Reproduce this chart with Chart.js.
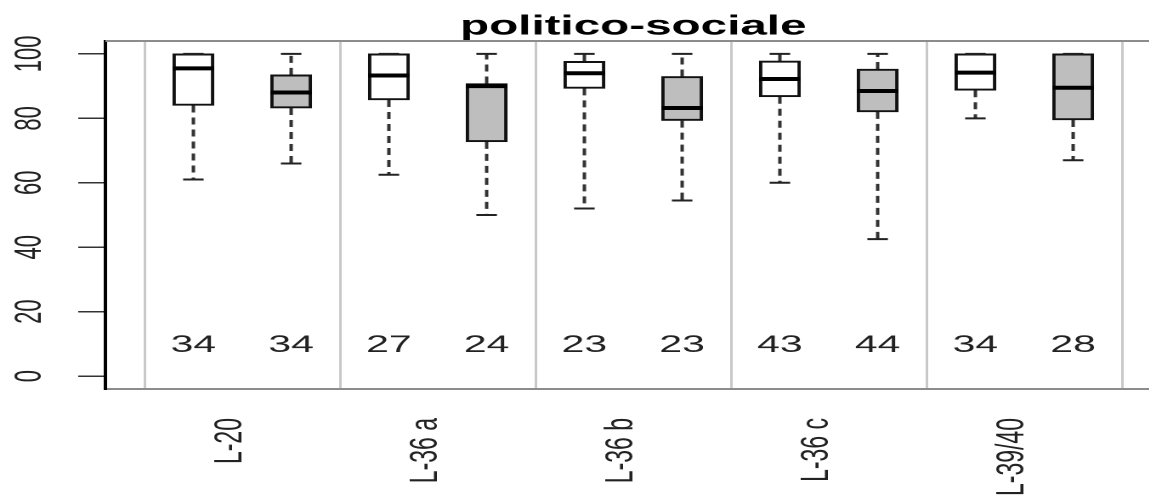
<!DOCTYPE html>
<html>
<head>
<meta charset="utf-8">
<script src="https://cdn.jsdelivr.net/npm/chart.js@4.4.1/dist/chart.umd.min.js"></script>
<style>
html, body { margin: 0; padding: 0; background: #fff; overflow: hidden; width: 1149px; height: 495px; }
/* the original R plot was stretched sideways, so we stretch the canvas the same way */
#wrap { width: 700px; height: 495px; transform: scaleX(1.7); transform-origin: 0 0; }
</style>
</head>
<body>
<div id="wrap"><canvas id="grafico" width="700" height="495"></canvas></div>
<script>
var categorias = ['L-20', 'L-36 a', 'L-36 b', 'L-36 c', 'L-39/40'];

// serie bianca
var minA = [61, 62.5, 52, 60, 80];
var q1A = [84, 85.7, 89.3, 86.7, 88.7];
var medA = [95.5, 93.3, 94, 92.2, 94.2];
var q3A = [100, 100, 97.7, 97.8, 100];
var maxA = [100, 100, 100, 100, 100];
var nA = [34, 27, 23, 43, 34];

// serie grigia
var minB = [66, 50, 54.5, 42.5, 67];
var q1B = [83.2, 72.7, 79.3, 82, 79.5];
var medB = [88, 90, 83.2, 88.5, 89.5];
var q3B = [93.5, 90.8, 93, 95.3, 100];
var maxB = [100, 100, 100, 100, 100];
var nB = [34, 24, 23, 44, 28];

var yTicks = [0, 20, 40, 60, 80, 100];
var titolo = 'politico-sociale';

var fonte = '"Liberation Sans", Arial, sans-serif';
var meia = 0.21;   // half box width, x units
var tampa = 0.105; // half cap width

var caixas = [], cores = [], medianas = [], bigodes = [], tampas = [], contagens = [];

function addBox(pos, mn, q1, md, q3, mx, n, cor) {
    caixas.push({ x: pos, y: [q1, q3] });
    cores.push(cor);
    medianas.push({ x: pos - meia, y: md }, { x: pos + meia, y: md }, { x: pos + meia, y: null });
    bigodes.push({ x: pos, y: q3 }, { x: pos, y: mx }, { x: pos, y: null },
                 { x: pos, y: q1 }, { x: pos, y: mn }, { x: pos, y: null });
    tampas.push({ x: pos - tampa, y: mx }, { x: pos + tampa, y: mx }, { x: pos + tampa, y: null },
                { x: pos - tampa, y: mn }, { x: pos + tampa, y: mn }, { x: pos + tampa, y: null });
    contagens.push({ x: pos, n: n });
}

for (var i = 0; i < categorias.length; i++) {
    addBox(2 * i + 1, minA[i], q1A[i], medA[i], q3A[i], maxA[i], nA[i], '#ffffff');
    addBox(2 * i + 2, minB[i], q1B[i], medB[i], q3B[i], maxB[i], nB[i], '#bebebe');
}

var separadores = [];
for (var s = 0.5; s <= 10.5; s += 1) separadores.push(s);

// top border of the plot box + the counts under the boxes
var extras = {
    id: 'extras',
    beforeDatasetsDraw: function (chart) {
        var c = chart.ctx, a = chart.chartArea;
        c.save();
        c.strokeStyle = '#8c8c8c';
        c.lineWidth = 2;
        c.beginPath();
        c.moveTo(a.left, a.top);
        c.lineTo(a.right, a.top);
        c.lineTo(a.right, a.bottom);
        c.stroke();
        c.restore();
    },
    afterDatasetsDraw: function (chart) {
        var c = chart.ctx;
        var sx = chart.scales.x, sy = chart.scales.y;
        c.save();
        c.fillStyle = '#222';
        c.font = '24px ' + fonte;
        c.textAlign = 'center';
        c.textBaseline = 'middle';
        contagens.forEach(function (k) {
            c.fillText(String(k.n), sx.getPixelForValue(k.x), sy.getPixelForValue(9.5));
        });
        c.restore();
    },
    afterDraw: function (chart) {
        // y labels parallel to the axis, like R
        var c = chart.ctx, sy = chart.scales.y;
        c.save();
        c.fillStyle = '#222';
        c.font = '22px ' + fonte;
        c.textAlign = 'center';
        c.textBaseline = 'middle';
        sy.ticks.forEach(function (t) {
            c.save();
            c.translate(18, sy.getPixelForValue(t.value));
            c.rotate(-Math.PI / 2);
            c.fillText(String(t.value), 0, 0);
            c.restore();
        });
        c.restore();
    }
};

var ctx = document.getElementById('grafico').getContext('2d');

var grafico = new Chart(ctx, {
    type: 'bar',
    data: {
        datasets: [{
            type: 'line',
            data: bigodes,
            borderColor: '#333',
            borderWidth: 2,
            borderDash: [7, 5],
            pointRadius: 0,
            spanGaps: false,
            order: 3
        }, {
            type: 'bar',
            data: caixas,
            backgroundColor: cores,
            borderColor: '#111',
            borderWidth: 2,
            borderSkipped: false,
            barThickness: 24,
            grouped: false,
            order: 2
        }, {
            type: 'line',
            data: tampas,
            borderColor: '#222',
            borderWidth: 2,
            pointRadius: 0,
            spanGaps: false,
            order: 1
        }, {
            type: 'line',
            data: medianas,
            borderColor: '#000',
            borderWidth: 4,
            borderCapStyle: 'butt',
            pointRadius: 0,
            spanGaps: false,
            order: 0
        }]
    },
    options: {
        responsive: false,
        animation: false,
        devicePixelRatio: 2,
        layout: { padding: { left: 0, right: 17, top: 0, bottom: 0 } },
        plugins: {
            legend: { display: false },
            tooltip: { enabled: false },
            title: {
                display: true,
                text: titolo,
                fullSize: false,
                color: '#000',
                font: { family: fonte, size: 28, weight: 'bold', lineHeight: 1 },
                padding: { top: 13, bottom: 0 }
            }
        },
        scales: {
            x: {
                type: 'linear',
                offset: false,
                min: 0.1,
                max: 10.9,
                afterBuildTicks: function (scale) {
                    scale.ticks = separadores.map(function (v) { return { value: v }; });
                },
                afterFit: function (scale) {
                    scale.height = 106;
                    scale.paddingLeft = 0;
                    scale.paddingRight = 0;
                },
                ticks: {
                    autoSkip: false,
                    minRotation: 90,
                    maxRotation: 90,
                    padding: 29,
                    labelOffset: -7,
                    color: '#222',
                    font: { family: fonte, size: 23 },
                    callback: function (v) {
                        var k = (v - 1.5) / 2;
                        return (Number.isInteger(k) && k >= 0 && k < categorias.length) ? categorias[k] : '';
                    }
                },
                grid: {
                    offset: false,
                    drawTicks: false,
                    lineWidth: 1.5,
                    color: function (c) {
                        if (c.tick && (c.tick.value - 0.5) % 2 === 0) return '#c8c8c8';
                        return 'rgba(0,0,0,0)';
                    }
                },
                border: { color: '#8c8c8c', width: 2 }
            },
            y: {
                min: -4,
                max: 104,
                afterBuildTicks: function (scale) {
                    scale.ticks = yTicks.map(function (v) { return { value: v }; });
                },
                afterFit: function (scale) { scale.width = 62; },
                ticks: { display: false },
                grid: {
                    drawOnChartArea: false,
                    drawTicks: true,
                    tickLength: 16,
                    color: '#333',
                    lineWidth: 1.5
                },
                border: { color: '#000', width: 2 }
            }
        }
    },
    plugins: [extras]
});
</script>
</body>
</html>
